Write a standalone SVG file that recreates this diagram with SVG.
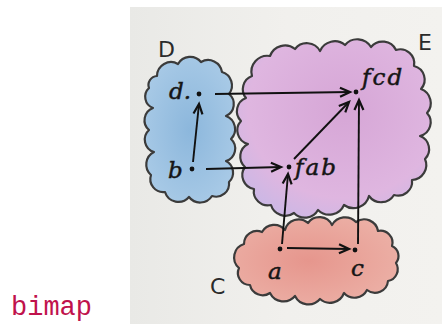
<svg xmlns="http://www.w3.org/2000/svg" width="442" height="324" viewBox="0 0 442 324">
<defs>
<style>
.cloud{stroke:#3b3b3b;stroke-width:2.2;stroke-linejoin:round}
.lbl{font-family:"DejaVu Serif",serif;font-style:italic;font-size:23px;fill:#151515;stroke:#151515;stroke-width:0.5}
.big{font-family:"DejaVu Sans",sans-serif;font-size:22px;fill:#2a2a2a}
.dot{fill:#111}
.arr{stroke:#111;stroke-width:1.9;fill:none;marker-end:url(#ah)}
.code{font-family:"Liberation Mono","Courier New",monospace;font-size:27px;fill:#c0124c}
</style>
<marker id="ah" markerWidth="14" markerHeight="12" viewBox="-11 -6 14 12" refX="0" refY="0" orient="auto" markerUnits="userSpaceOnUse">
<path d="M-10,-4.5 L0,0 L-10,4.5" fill="none" stroke="#111" stroke-width="2.2"/>
</marker>
<linearGradient id="paper" x1="0" y1="0" x2="1" y2="0">
<stop offset="0" stop-color="#e9e9e6"/>
<stop offset="0.5" stop-color="#f1f0ed"/>
<stop offset="1" stop-color="#f3f2ef"/>
</linearGradient>
<radialGradient id="gD" cx="0.5" cy="0.5" r="0.6">
<stop offset="0" stop-color="#8cb7dc"/>
<stop offset="1" stop-color="#aacbe7"/>
</radialGradient>
<radialGradient id="gE" cx="0.55" cy="0.4" r="0.7">
<stop offset="0" stop-color="#d6a6d6"/>
<stop offset="0.7" stop-color="#dfb6e0"/>
<stop offset="1" stop-color="#c8b8e6"/>
</radialGradient>
<radialGradient id="gC" cx="0.45" cy="0.5" r="0.6">
<stop offset="0" stop-color="#e6968d"/>
<stop offset="1" stop-color="#ecb0a6"/>
</radialGradient>
</defs>
<rect x="0" y="0" width="442" height="324" fill="#ffffff"/>
<rect x="130" y="7" width="312" height="317" fill="url(#paper)"/>
<text class="code" x="11" y="315">bimap</text>
<g id="cloud-D">
<path class="cloud" fill="url(#gD)" d="M157,76 A14,14 0 0 1 178,64 A14,14 0 0 1 201,62 A14,14 0 0 1 222,72 A14,14 0 0 1 229,94 A13,13 0 0 1 226,116 A14,14 0 0 1 231,139 A13,13 0 0 1 226,161 A13,13 0 0 1 229,182 A13,13 0 0 1 212,196 A14,14 0 0 1 189,197 A14,14 0 0 1 165,192 A13,13 0 0 1 151,175 A14,14 0 0 1 154,152 A13,13 0 0 1 149,130 A13,13 0 0 1 153,108 A12,12 0 0 1 149,88 A9,9 0 0 1 157,76 Z"/>
<text class="big" x="158" y="57" font-size="18">D</text>
</g>
<g id="cloud-E">
<path class="cloud" fill="url(#gE)" d="M252,76 A16,16 0 0 1 270,56 A16,16 0 0 1 295,49 A15,15 0 0 1 320,51 A16,16 0 0 1 345,45 A16,16 0 0 1 371,47 A15,15 0 0 1 396,50 A14,14 0 0 1 414,66 A14,14 0 0 1 421,89 A15,15 0 0 1 427,113 A14,14 0 0 1 420,136 A14,14 0 0 1 425,159 A15,15 0 0 1 412,180 A14,14 0 0 1 394,195 A15,15 0 0 1 369,196 A16,16 0 0 1 344,205 A16,16 0 0 1 318,210 A15,15 0 0 1 294,213 A15,15 0 0 1 271,205 A14,14 0 0 1 254,189 A14,14 0 0 1 245,167 A14,14 0 0 1 248,144 A14,14 0 0 1 241,121 A14,14 0 0 1 246,98 A14,14 0 0 1 252,76 Z"/>
<text class="big" x="418" y="50" font-size="26">E</text>
</g>
<g id="cloud-C">
<path class="cloud" fill="url(#gC)" d="M244,244 A13,13 0 0 1 262,232 A14,14 0 0 1 285,230 A14,14 0 0 1 308,223 A14,14 0 0 1 332,225 A15,15 0 0 1 356,222 A14,14 0 0 1 378,231 A12,12 0 0 1 392,246 A11,11 0 0 1 396,263 A12,12 0 0 1 388,281 A13,13 0 0 1 367,290 A14,14 0 0 1 344,293 A15,15 0 0 1 320,299 A15,15 0 0 1 295,296 A15,15 0 0 1 270,293 A13,13 0 0 1 250,285 A12,12 0 0 1 239,268 A14,14 0 0 1 244,244 Z"/>
<text class="big" x="210" y="294" font-size="26">C</text>
</g>
<g id="connectors">
<line class="arr" x1="193" y1="162" x2="199" y2="104"/>
<line class="arr" x1="215" y1="94" x2="350" y2="92"/>
<line class="arr" x1="206" y1="169" x2="281" y2="167"/>
<line class="arr" x1="294" y1="159" x2="349" y2="102"/>
<line class="arr" x1="282" y1="244" x2="288" y2="174"/>
<line class="arr" x1="358" y1="244" x2="359" y2="100"/>
<line class="arr" x1="287" y1="248" x2="349" y2="249"/>
</g>
<g id="node-d"><circle class="dot" cx="199" cy="94" r="2.4"/><text class="lbl" x="169" y="99">d.</text></g>
<g id="node-b"><circle class="dot" cx="192" cy="169" r="2.4"/><text class="lbl" x="168" y="178">b</text></g>
<g id="node-fcd"><circle class="dot" cx="356" cy="92" r="2.4"/><text class="lbl" x="362" y="85" letter-spacing="2">fcd</text></g>
<g id="node-fab"><circle class="dot" cx="289" cy="167" r="2.4"/><text class="lbl" x="295" y="175" letter-spacing="2">fab</text></g>
<g id="node-a"><circle class="dot" cx="280" cy="249" r="2.4"/><text class="lbl" x="268" y="279">a</text></g>
<g id="node-c"><circle class="dot" cx="355" cy="250" r="2.4"/><text class="lbl" x="351" y="276">c</text></g>
</svg>
